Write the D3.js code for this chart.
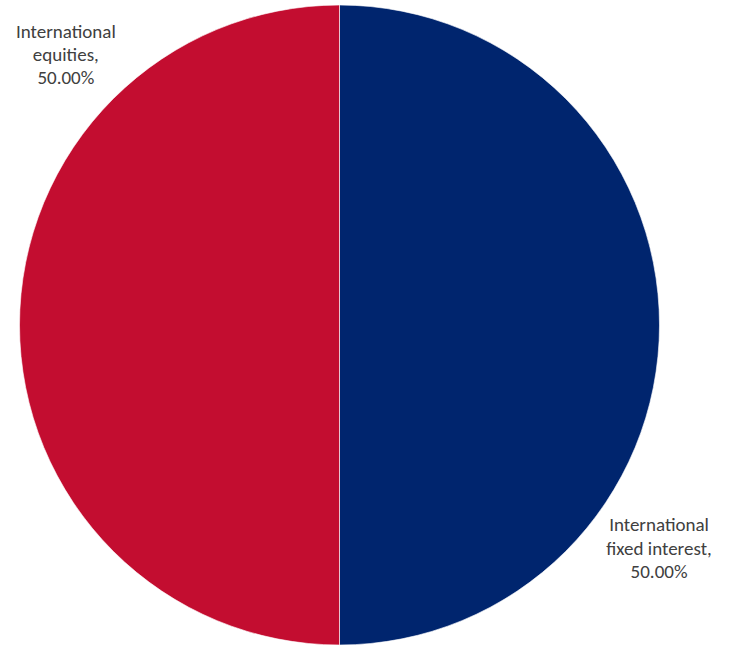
<!DOCTYPE html>
<html>
<head>
<meta charset="utf-8">
<script src="https://cdn.jsdelivr.net/npm/d3@7"></script>
<style>
  body { margin: 0; background: #fff; }
  text { font-family: Calibri, Carlito, "Open Sans", sans-serif; }
</style>
</head>
<body>
<div id="chart"></div>
<script>
// chart data
const categories = ["International fixed interest", "International equities"];
const values = [50.0, 50.0];
const labelLines = [
  ["International", "fixed interest,", "50.00%"],
  ["International", "equities,", "50.00%"]
];

const colors = d3.scaleOrdinal()
  .domain(categories)
  .range(["#00256E", "#C30D30"]);

const width = 731, height = 645;
const cx = 339.5, cy = 325, radius = 320;

const svg = d3.select("#chart")
  .append("svg")
  .attr("width", width)
  .attr("height", height);

const g = svg.append("g")
  .attr("transform", `translate(${cx},${cy})`);

const pie = d3.pie().sort(null).value(d => d.value);
const arcs = pie(categories.map((c, i) => ({name: c, value: values[i], lines: labelLines[i]})));

const arc = d3.arc().innerRadius(0).outerRadius(radius);

g.selectAll("path")
  .data(arcs)
  .join("path")
  .attr("d", arc)
  .attr("fill", d => colors(d.data.name))
  .attr("stroke", "#fff")
  .attr("stroke-width", 0.6);

// label placement (angle from 12 o'clock, distance from centre), like excel best fit
const labelPlace = [{angle: 124.9, dist: 389.6}, {angle: 314.7, dist: 385}];

const labels = g.selectAll("text.lbl")
  .data(arcs)
  .join("text")
  .attr("class", "lbl")
  .attr("text-anchor", "middle")
  .attr("fill", "#404040")
  .style("font-size", "19px")
  .attr("transform", (d, i) => {
    const a = labelPlace[i].angle * Math.PI / 180;
    return `translate(${Math.sin(a) * labelPlace[i].dist},${-Math.cos(a) * labelPlace[i].dist})`;
  });

labels.selectAll("tspan")
  .data(d => d.data.lines)
  .join("tspan")
  .attr("x", 0)
  .attr("dy", (d, i) => i === 0 ? "-0.87em" : "1.22em")
  .text(d => d);
</script>
</body>
</html>
